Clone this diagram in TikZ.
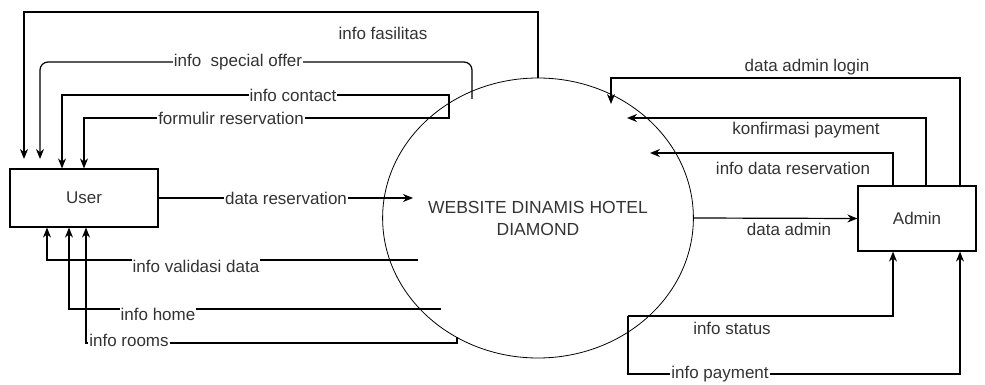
\documentclass[tikz,border=0pt]{standalone}
\usepackage{fontspec}
\setmainfont{Liberation Sans}
\usetikzlibrary{arrows.meta,shapes.geometric}
\definecolor{txt}{HTML}{333333}
\begin{document}
\begin{tikzpicture}[x=1pt,y=-1pt,
  every node/.style={font=\fontsize{17}{20}\selectfont, text=txt},
  entity/.style={draw, line width=1.2pt, minimum width=148pt, minimum height=58pt, inner sep=0pt},
  proc/.style={draw, ellipse, line width=0.8pt, minimum width=252pt, minimum height=280pt, inner sep=0pt, align=center},
  flow/.style={line width=1.2pt, -{Stealth[length=10pt,width=8pt]}},
  lbl/.style={fill=white, inner sep=1pt}]
\useasboundingbox (0,0) rectangle (985,385);
% entities
\node[entity] (User) at (84,198) {User};
\node[entity, minimum width=118pt, minimum height=65pt] (Admin) at (917,218.5) {Admin};
\node[proc, font=\fontsize{17.5}{22}\selectfont] (Web) at (538,218) {WEBSITE DINAMIS HOTEL\\DIAMOND};
% named points on the process boundary
\coordinate (pSO) at (472,99);
\coordinate (pCT) at (449,119);
\coordinate (pFR) at (450,118);
\coordinate (pDR) at (413,198);
\coordinate (pVD) at (418,260);
\coordinate (pHM) at (441,309);
\coordinate (pRM) at (457,337);
\coordinate (pAL) at (611,104);
\coordinate (pKP) at (627,118);
\coordinate (pIR) at (650,153);
\coordinate (pST) at (628,316);
\coordinate (tF) at (24,159);
\coordinate (tS) at (40,159);
% flows to User (top)
\draw[flow] (Web.north) -- (538,12) -- (24,12) -- (tF);
\draw[flow, rounded corners=8pt] (pSO) -- (472,62) -- (40,62) -- (tS);
\draw[flow] (pCT) -- (449,95) -- (62,95) -- (62,0 |- User.north);
\draw[flow] (pFR) -- (84,118) -- (84,0 |- User.north);
% data reservation
\draw[flow] (User.east |- pDR) -- (pDR);
% flows to User (bottom)
\draw[flow] (pVD) -- (47,260) -- (47,0 |- User.south);
\draw[flow] (pHM) -- (69,309) -- (69,0 |- User.south);
\draw[flow] (pRM) -- (457,343) -- (86,343) -- (86,0 |- User.south);
% admin side
\draw[flow] (960,0 |- Admin.north) -- (960,78) -- (611,78) -- (pAL);
\draw[flow] (926,0 |- Admin.north) -- (926,118) -- (pKP);
\draw[flow] (893,0 |- Admin.north) -- (893,153) -- (pIR);
\draw[flow] (Web.east) -- (Admin.west);
\draw[flow] (pST) -- (893,316) -- (893,0 |- Admin.south);
\draw[flow] (pST) -- (628,374) -- (960,374) -- (960,0 |- Admin.south);
% labels
\node (lF) at (383,33) {info fasilitas};
\node[lbl] (lS) at (238,62) {info\ \ special offer};
\node[lbl] (lC) at (293,95) {info contact};
\node[lbl] (lR) at (231,118) {formulir reservation};
\node[lbl] (lD) at (286,198) {data reservation};
\node[lbl] (lV) at (196,266) {info validasi data};
\node[lbl] (lH) at (158,314) {info home};
\node[lbl] (lO) at (129,340) {info rooms};
\node (lL) at (807,67) {data admin login};
\node[lbl] (lK) at (806,130) {konfirmasi payment};
\node[lbl] (lI) at (793,168) {info data reservation};
\node[lbl] (lA) at (789,229) {data admin};
\node[lbl] (lT) at (732,328) {info status};
\node[lbl] (lP) at (720,374) {info payment};
\end{tikzpicture}
\end{document}
